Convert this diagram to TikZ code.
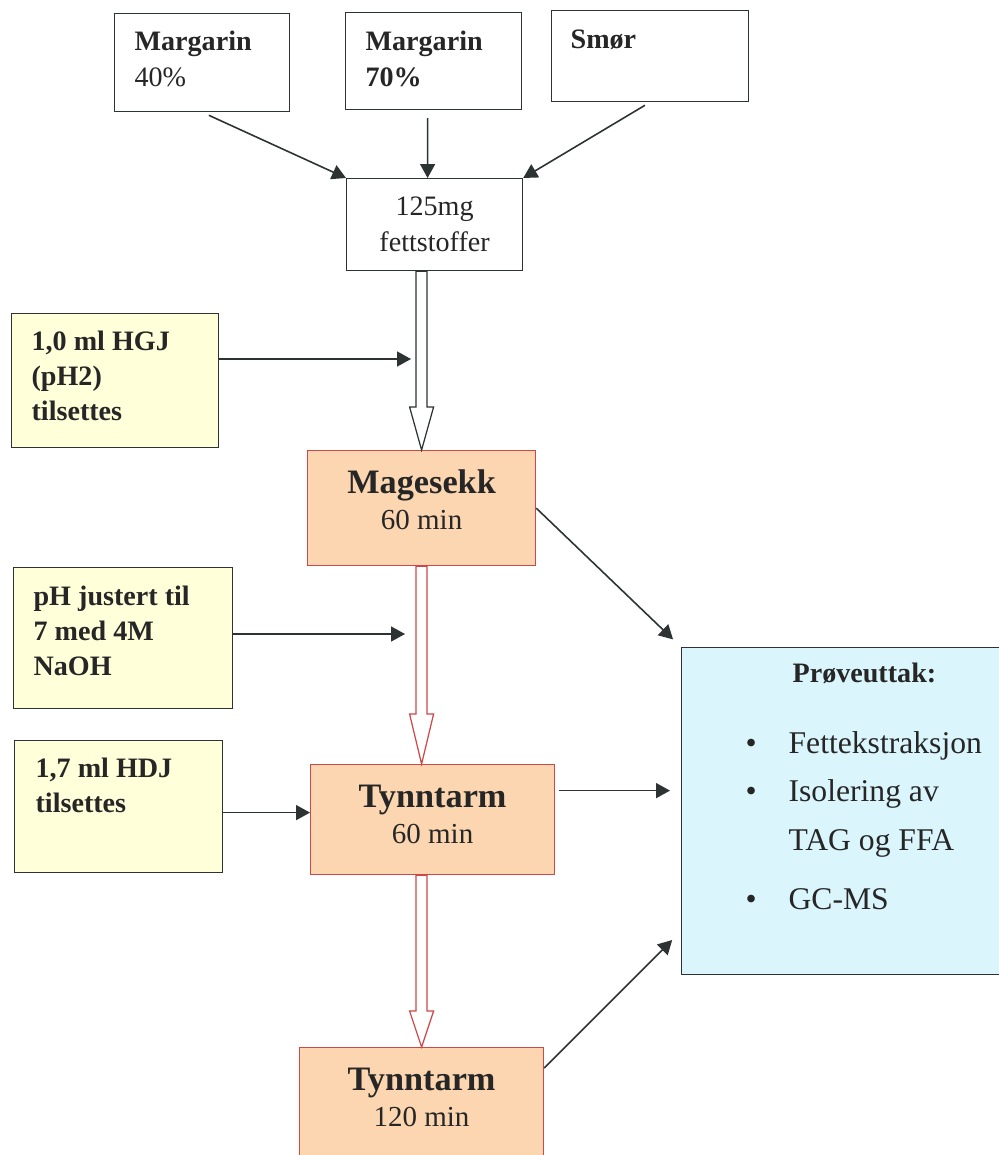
\documentclass[tikz,border=0pt]{standalone}
\usepackage{fontspec}
\setmainfont{Liberation Serif}
\usetikzlibrary{arrows.meta,calc}
\definecolor{linegray}{RGB}{45,50,50}
\definecolor{addfill}{RGB}{255,255,218}
\definecolor{stagefill}{RGB}{251,214,176}
\definecolor{stageline}{RGB}{205,72,72}
\definecolor{samplefill}{RGB}{218,246,252}
\tikzset{
  box/.style={draw=linegray, line width=0.7pt, anchor=north west, inner ysep=0pt, align=flush left, text=black!85, font=\fontsize{16}{20.5}\selectfont},
  source/.style={box, fill=white, inner xsep=0.4cm},
  addition/.style={box, fill=addfill, inner xsep=0.4cm, font=\fontsize{16}{20}\selectfont\bfseries},
  stage/.style={box, draw=stageline, fill=stagefill, inner xsep=0pt, align=flush center, font=\fontsize{16.5}{20.5}\selectfont},
  sample/.style={box, fill=samplefill, inner xsep=0pt, font=\fontsize{18}{27.5}\selectfont},
  arrow/.style={-{Triangle[length=0.28cm,width=0.3cm]}, draw=linegray, line width=0.9pt},
  flow/.style={fill=white, line width=0.7pt},
}
% hollow block arrow between two stages: from, to, colour, head length
\newcommand{\flowarrow}[4]{%
  \draw[flow, draw=#3] let \p1=(#1.south -| mage.north), \p2=(#2.north -| mage.north) in
    (\x1-0.11cm,\y1) -- (\x1+0.11cm,\y1) -- (\x1+0.11cm,\y2+#4) -- (\x1+0.24cm,\y2+#4)
    -- (\p2) -- (\x1-0.24cm,\y2+#4) -- (\x1-0.11cm,\y2+#4) -- cycle;}

\begin{document}
\begin{tikzpicture}[x=0.02cm, y=-0.02cm]
  \path[use as bounding box, fill=white] (0,0) rectangle (998,1155);

  % fat sources
  \node[source, text width=2.7cm, text height=0.74cm, text depth=1.22cm] (m40) at (114,13) {\textbf{Margarin}\\40\%};
  \node[source, text width=2.72cm, text height=0.76cm, text depth=1.18cm] (m70) at (345,12) {\textbf{Margarin}\\\textbf{70\%}};
  \node[source, inner xsep=0.38cm, text width=3.18cm, text height=0.76cm, text depth=1.06cm] (smor) at (551,10) {\textbf{Smør}};
  \node[source, inner xsep=0pt, align=flush center, text width=3.52cm, text height=0.74cm, text depth=1.1cm] (fett) at (346,178) {125mg\\fettstoffer};

  % additions
  \node[addition, text width=3.34cm, text height=0.74cm, text depth=1.94cm] (hgj) at (11,313) {1,0 ml HGJ\\(pH2)\\tilsettes};
  \node[addition, text width=3.58cm, text height=0.76cm, text depth=2.06cm] (naoh) at (13,567) {pH justert til\\7 med 4M\\NaOH};
  \node[addition, inner xsep=0.42cm, text width=3.32cm, text height=0.74cm, text depth=1.9cm] (hdj) at (14,740) {1,7 ml HDJ\\tilsettes};

  % digestion steps
  \node[stage, text width=4.56cm, text height=0.86cm, text depth=1.44cm] (mage) at (307,450) {{\fontsize{19.5}{20.5}\selectfont\bfseries Magesekk}\\60 min};
  \node[stage, text width=4.88cm, text height=0.86cm, text depth=1.34cm] (tynn1) at (310,764) {{\fontsize{19.5}{20.5}\selectfont\bfseries Tynntarm}\\60 min};
  \node[stage, text width=4.88cm, text height=0.86cm, text depth=1.46cm] (tynn2) at (299,1047) {{\fontsize{19.5}{20.5}\selectfont\bfseries Tynntarm}\\120 min};

  % sampling
  \node[sample, text width=6.48cm, text height=0.7cm, text depth=5.84cm] (probe) at (681,647)
    {\hspace*{2.22cm}{\fontsize{16}{20}\selectfont\bfseries Prøveuttak:}\\[12.9pt]
     \hspace*{1.28cm}\textbullet\hspace{0.64cm}Fettekstraksjon\\
     \hspace*{1.28cm}\textbullet\hspace{0.64cm}Isolering av\\
     \hspace*{2.14cm}TAG og FFA\\[6.5pt]
     \hspace*{1.28cm}\textbullet\hspace{0.64cm}GC-MS};

  \flowarrow{fett}{mage}{linegray}{0.86cm}
  \flowarrow{mage}{tynn1}{stageline}{1cm}
  \flowarrow{tynn1}{tynn2}{stageline}{0.72cm}

  \draw[arrow, shorten <=0.15cm] (m40.south) -- (fett.north west);
  \draw[arrow, shorten <=0.16cm] ([xshift=-0.12cm]m70.south) -- ([xshift=-0.14cm]fett.north);
  \draw[arrow, shorten <=0.12cm] (smor.south) -- (fett.north east);

  \coordinate (hgj in) at (411,359);
  \coordinate (naoh in) at (405,634);
  \draw[arrow] (hgj.east |- hgj in) -- (hgj in);
  \draw[arrow] (naoh.east |- naoh in) -- (naoh in);
  \draw[arrow] ([yshift=-0.12cm]hdj.east) -- ([yshift=-0.12cm]hdj.east -| tynn1.west);

  \draw[arrow, shorten >=0.22cm] (mage.east) -- (probe.north west);
  \draw[arrow, shorten <=0.08cm, shorten >=0.22cm] ([yshift=0.58cm]tynn1.east) -- ([yshift=0.58cm]tynn1.east -| probe.west);
  \draw[arrow, shorten >=0.25cm] ([yshift=-0.42cm]tynn2.north east) -- ([yshift=0.88cm]probe.south west);
\end{tikzpicture}
\end{document}
